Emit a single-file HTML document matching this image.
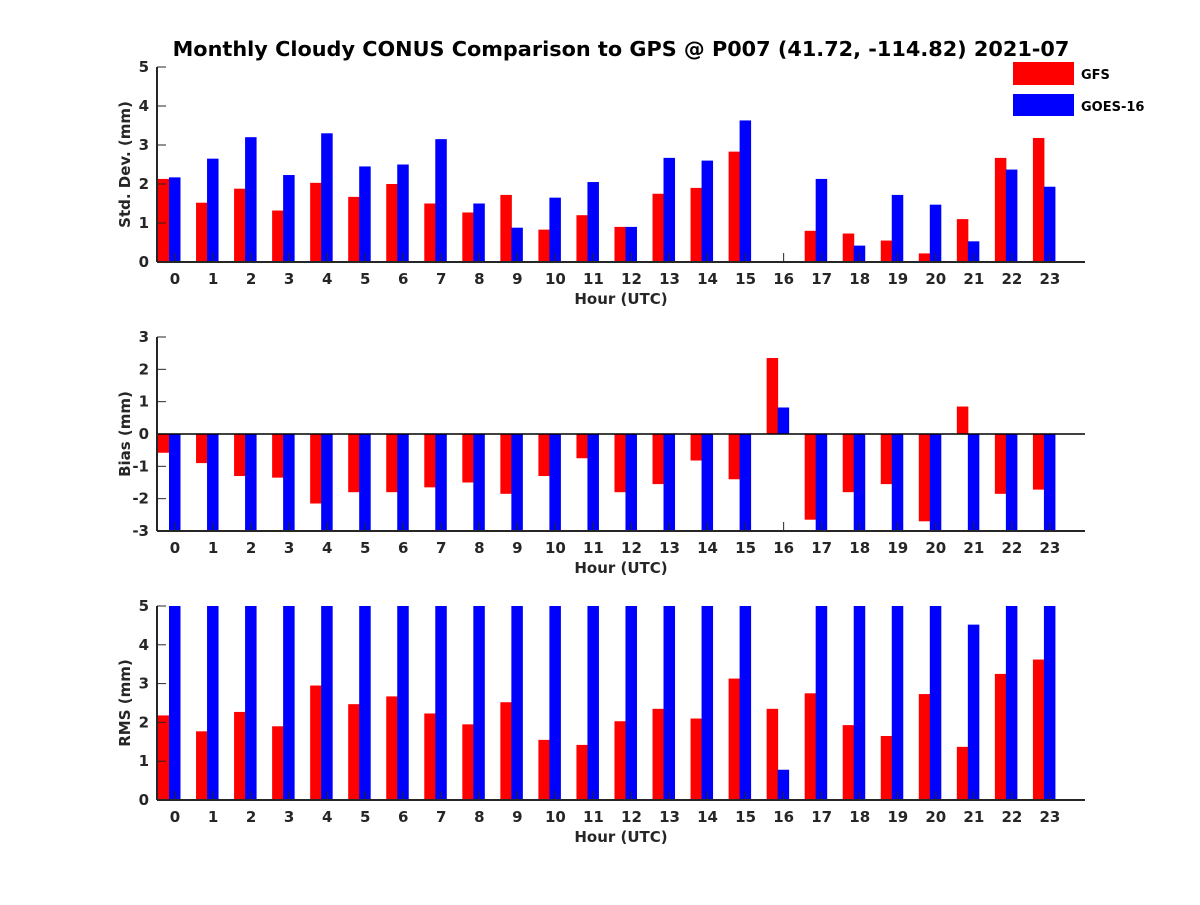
<!DOCTYPE html>
<html><head><meta charset="utf-8"><style>
body{margin:0;background:#fff}
text{font-family:"DejaVu Sans","Liberation Sans",sans-serif;font-weight:bold;fill:#262626}
</style></head><body>
<svg id="c" width="1200" height="900" xmlns="http://www.w3.org/2000/svg">
<text x="621" y="56" text-anchor="middle" font-size="20.8" style="fill:#000">Monthly Cloudy CONUS Comparison to GPS @ P007 (41.72, -114.82) 2021-07</text>
<g>
<rect x="1013" y="62" width="61" height="23" fill="#ff0000"/>
<text x="1081" y="79" font-size="13" style="fill:#000">GFS</text>
<rect x="1013" y="94" width="61" height="22" fill="#0000ff"/>
<text x="1081" y="111" font-size="13" style="fill:#000">GOES-16</text>
</g>
</svg>
<script>
const hours=[0,1,2,3,4,5,6,7,8,9,10,11,12,13,14,15,16,17,18,19,20,21,22,23];
const stdGFS=[2.13,1.52,1.88,1.32,2.03,1.67,2.0,1.5,1.27,1.72,0.83,1.2,0.9,1.75,1.9,2.83,null,0.8,0.73,0.55,0.22,1.1,2.67,3.18];
const stdGOES=[2.17,2.65,3.2,2.23,3.3,2.45,2.5,3.15,1.5,0.88,1.65,2.05,0.9,2.67,2.6,3.63,null,2.13,0.42,1.72,1.47,0.53,2.37,1.93];
const biasGFS=[-0.58,-0.9,-1.3,-1.35,-2.15,-1.8,-1.8,-1.65,-1.5,-1.85,-1.3,-0.75,-1.8,-1.55,-0.82,-1.4,2.35,-2.65,-1.8,-1.55,-2.7,0.85,-1.85,-1.72];
const biasGOES=[-4,-4,-4,-4,-4,-4,-4,-4,-4,-4,-4,-4,-4,-4,-4,-4,0.82,-4,-4,-4,-4,-4,-4,-4];
const rmsGFS=[2.18,1.77,2.27,1.9,2.95,2.47,2.67,2.23,1.95,2.52,1.55,1.42,2.03,2.35,2.1,3.13,2.35,2.75,1.93,1.65,2.73,1.37,3.25,3.62];
const rmsGOES=[6,6,6,6,6,6,6,6,6,6,6,6,6,6,6,6,0.78,6,6,6,6,4.52,6,6];
const stdTicks=[0,1,2,3,4,5];
const biasTicks=[-3,-2,-1,0,1,2,3];
const rmsTicks=[0,1,2,3,4,5];
const NS='http://www.w3.org/2000/svg';
const svg=document.getElementById('c');
function mk(t,a,p){const e=document.createElementNS(NS,t);for(const k in a)e.setAttribute(k,a[k]);(p||svg).appendChild(e);return e;}
const X0=157,X1=1085;
function xs(h){return 175+h*38.04;}
function panel(name,top,bot,ymin,ymax,ticks,ylabel,s1,s2){
  const g=mk('g',{});
  
  
  const ys=v=>bot-(v-ymin)/(ymax-ymin)*(bot-top);
  const cid='clip-'+name;
  const cp=mk('clipPath',{id:cid},g);mk('rect',{x:X0,y:top,width:X1-X0,height:bot-top},cp);
  const bg=mk('g',{'clip-path':'url(#'+cid+')'},g);
  const base=ys(Math.max(0,ymin));
  hours.forEach((h,i)=>{
    [[s1,'#ff0000',-17,'gfs'],[s2,'#0000ff',-6,'goes']].forEach(([s,c,off,nm])=>{
      const v=s[i];if(v===null)return;
      const y=ys(v);
      const r=mk('rect',{x:xs(h)+off,y:Math.min(y,base),width:11.5,height:Math.abs(base-y),fill:c},bg);
      
      
    });
  });
  hours.forEach(h=>{
    mk('line',{x1:xs(h),x2:xs(h),y1:bot,y2:bot-9,stroke:'#262626','stroke-width':1},g);
    const t=mk('text',{x:xs(h),y:bot+22,'text-anchor':'middle','font-size':15},g);
    t.textContent=h;
    
    
  });
  ticks.forEach(v=>{
    const y=ys(v);
    mk('line',{x1:X0,x2:X0+9,y1:y,y2:y,stroke:'#262626','stroke-width':1},g);
    const t=mk('text',{x:X0-8,y:y+5,'text-anchor':'end','font-size':15},g);
    t.textContent=v;
    
    
  });
  if(ymin<0)mk('line',{x1:X0,x2:X1,y1:ys(0),y2:ys(0),stroke:'#000','stroke-width':1.5},g);
  mk('line',{x1:X0,x2:X0,y1:top,y2:bot,stroke:'#262626','stroke-width':2},g);
  mk('line',{x1:X0,x2:X1,y1:bot,y2:bot,stroke:'#262626','stroke-width':2},g);
  const xl=mk('text',{x:621,y:bot+42,'text-anchor':'middle','font-size':15},g);
  xl.textContent='Hour (UTC)';
  
  
  const cy=(top+bot)/2;
  const yl=mk('text',{x:130,y:cy,'text-anchor':'middle','font-size':15,transform:'rotate(-90 130 '+cy+')'},g);
  yl.textContent=ylabel;
  
  
}
panel('std',67,262,0,5,stdTicks,'Std. Dev. (mm)',stdGFS,stdGOES);
panel('bias',337,531,-3,3,biasTicks,'Bias (mm)',biasGFS,biasGOES);
panel('rms',606,800,0,5,rmsTicks,'RMS (mm)',rmsGFS,rmsGOES);
</script>
</body></html>
